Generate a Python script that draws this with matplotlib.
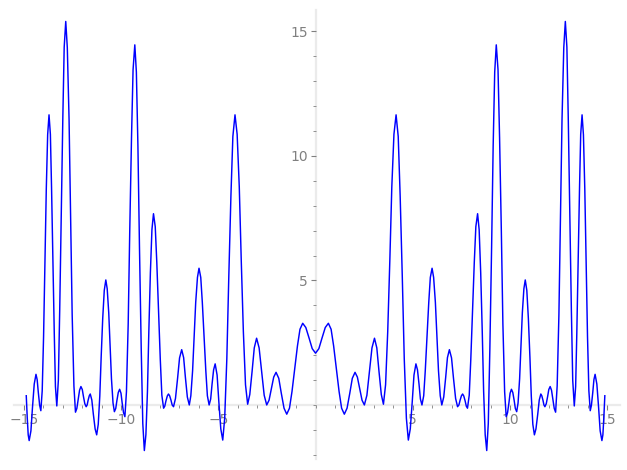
import numpy as np
import matplotlib.pyplot as plt
from matplotlib.ticker import MultipleLocator, FixedLocator

# curve, right half (x >= 0); the curve is even, so the left half mirrors it
x_half = [0.0, 0.17, 0.33, 0.5, 0.66,
          0.8, 0.93, 1.07, 1.21, 1.34, 1.48,
          1.62, 1.76, 1.89, 2.03,
          2.15, 2.27, 2.39, 2.51,
          2.64, 2.77, 2.9, 3.03,
          3.15, 3.26, 3.38, 3.49,
          3.6, 3.71, 3.82, 3.92, 4.03, 4.14,
          4.25, 4.35, 4.46, 4.56, 4.67, 4.77,
          4.87, 4.97, 5.06, 5.16,
          5.24, 5.32, 5.39, 5.47,
          5.56, 5.64, 5.73, 5.82, 5.9, 5.99,
          6.07, 6.16, 6.24, 6.32, 6.41, 6.49,
          6.59, 6.69, 6.78, 6.88,
          6.99, 7.09, 7.2, 7.3,
          7.37, 7.43, 7.5, 7.56,
          7.62, 7.69, 7.75, 7.81,
          7.9, 7.98, 8.07, 8.16, 8.24, 8.33,
          8.41, 8.49, 8.57, 8.64, 8.72, 8.8,
          8.88, 8.96, 9.05, 9.13, 9.21, 9.29,
          9.38, 9.46, 9.55, 9.63, 9.72, 9.8,
          9.87, 9.94, 10.0, 10.07,
          10.14, 10.21, 10.27, 10.34,
          10.41, 10.49, 10.56, 10.63, 10.71, 10.78,
          10.86, 10.94, 11.02, 11.09, 11.17, 11.25,
          11.33, 11.42, 11.5, 11.58,
          11.63, 11.69, 11.74, 11.79,
          11.86, 11.93, 11.99, 12.06,
          12.13, 12.2, 12.27, 12.34,
          12.42, 12.51, 12.59, 12.67, 12.76, 12.84,
          12.92, 12.99, 13.07, 13.15, 13.22, 13.3,
          13.37, 13.43, 13.5, 13.57, 13.63, 13.7,
          13.77, 13.84, 13.91, 13.98, 14.05, 14.12,
          14.18, 14.25, 14.31, 14.37,
          14.46, 14.55, 14.63, 14.72,
          14.77, 14.82, 14.87]
y_half = [2.08, 2.26, 2.68, 3.11, 3.28,
          3.04, 2.37, 1.46, 0.54, -0.13, -0.37,
          -0.13, 0.47, 1.07, 1.31,
          1.12, 0.66, 0.19, 0.0,
          0.39, 1.34, 2.29, 2.68,
          2.29, 1.36, 0.42, 0.03,
          0.81, 2.94, 5.84, 8.75, 10.87, 11.65,
          10.78, 8.39, 5.12, 1.86, -0.54, -1.41,
          -0.96, 0.12, 1.2, 1.65,
          1.41, 0.83, 0.24, 0.0,
          0.37, 1.37, 2.75, 4.12, 5.12, 5.49,
          5.12, 4.12, 2.75, 1.37, 0.37, 0.0,
          0.32, 1.11, 1.9, 2.22,
          1.89, 1.08, 0.26, -0.07,
          0.0, 0.19, 0.37, 0.44,
          0.36, 0.16, -0.05, -0.13,
          0.39, 1.82, 3.78, 5.73, 7.16, 7.68,
          7.04, 5.3, 2.93, 0.55, -1.19, -1.83,
          -0.74, 2.24, 6.32, 10.39, 13.37, 14.46,
          13.46, 10.73, 7.0, 3.26, 0.53, -0.47,
          -0.31, 0.08, 0.47, 0.63,
          0.5, 0.18, -0.14, -0.27,
          0.08, 1.05, 2.38, 3.7, 4.67, 5.02,
          4.6, 3.47, 1.91, 0.36, -0.78, -1.2,
          -0.96, -0.38, 0.2, 0.44,
          0.37, 0.19, 0.0, -0.07,
          0.05, 0.34, 0.62, 0.74,
          0.59, 0.23, -0.14, -0.29,
          0.76, 3.63, 7.56, 11.48, 14.35, 15.4,
          14.37, 11.54, 7.68, 3.82, 0.99, -0.04,
          0.74, 2.88, 5.81, 8.73, 10.87, 11.65,
          10.85, 8.68, 5.71, 2.74, 0.57, -0.23,
          -0.02, 0.5, 1.02, 1.23,
          0.84, -0.1, -1.04, -1.43,
          -1.2, -0.5, 0.37]

x = np.concatenate([-np.array(x_half[:0:-1]), x_half])
y = np.concatenate([np.array(y_half[:0:-1]), y_half])

x_ticks = [-15, -10, -5, 5, 10, 15]
y_ticks = [5, 10, 15]

fig = plt.figure(figsize=(6.27, 4.70), dpi=100)
ax = fig.add_axes([14 / 627, 11 / 470, 606 / 627, 449 / 470])
ax.plot(x, y, color='blue', lw=1.05, zorder=3)

ax.set_xlim(-15.5, 15.65)
ax.set_ylim(-2.17, 15.86)

for s in ['top', 'right']:
    ax.spines[s].set_visible(False)
ax.spines['left'].set_position(('data', 0))
ax.spines['bottom'].set_position(('data', 0))
for s in ['left', 'bottom']:
    ax.spines[s].set_color('#ebebeb')
    ax.spines[s].set_linewidth(1.6)
    ax.spines[s].set_zorder(1)

ax.xaxis.set_major_locator(FixedLocator(x_ticks))
ax.yaxis.set_major_locator(FixedLocator(y_ticks))
ax.xaxis.set_minor_locator(MultipleLocator(1))
ax.yaxis.set_minor_locator(MultipleLocator(1))
ax.tick_params(which='major', length=3.5, width=0.8, color='#808080',
               labelcolor='#808080', labelsize=10, pad=2)
ax.tick_params(which='minor', length=2, width=0.6, color='#808080')

plt.savefig('out.png', dpi=100)
